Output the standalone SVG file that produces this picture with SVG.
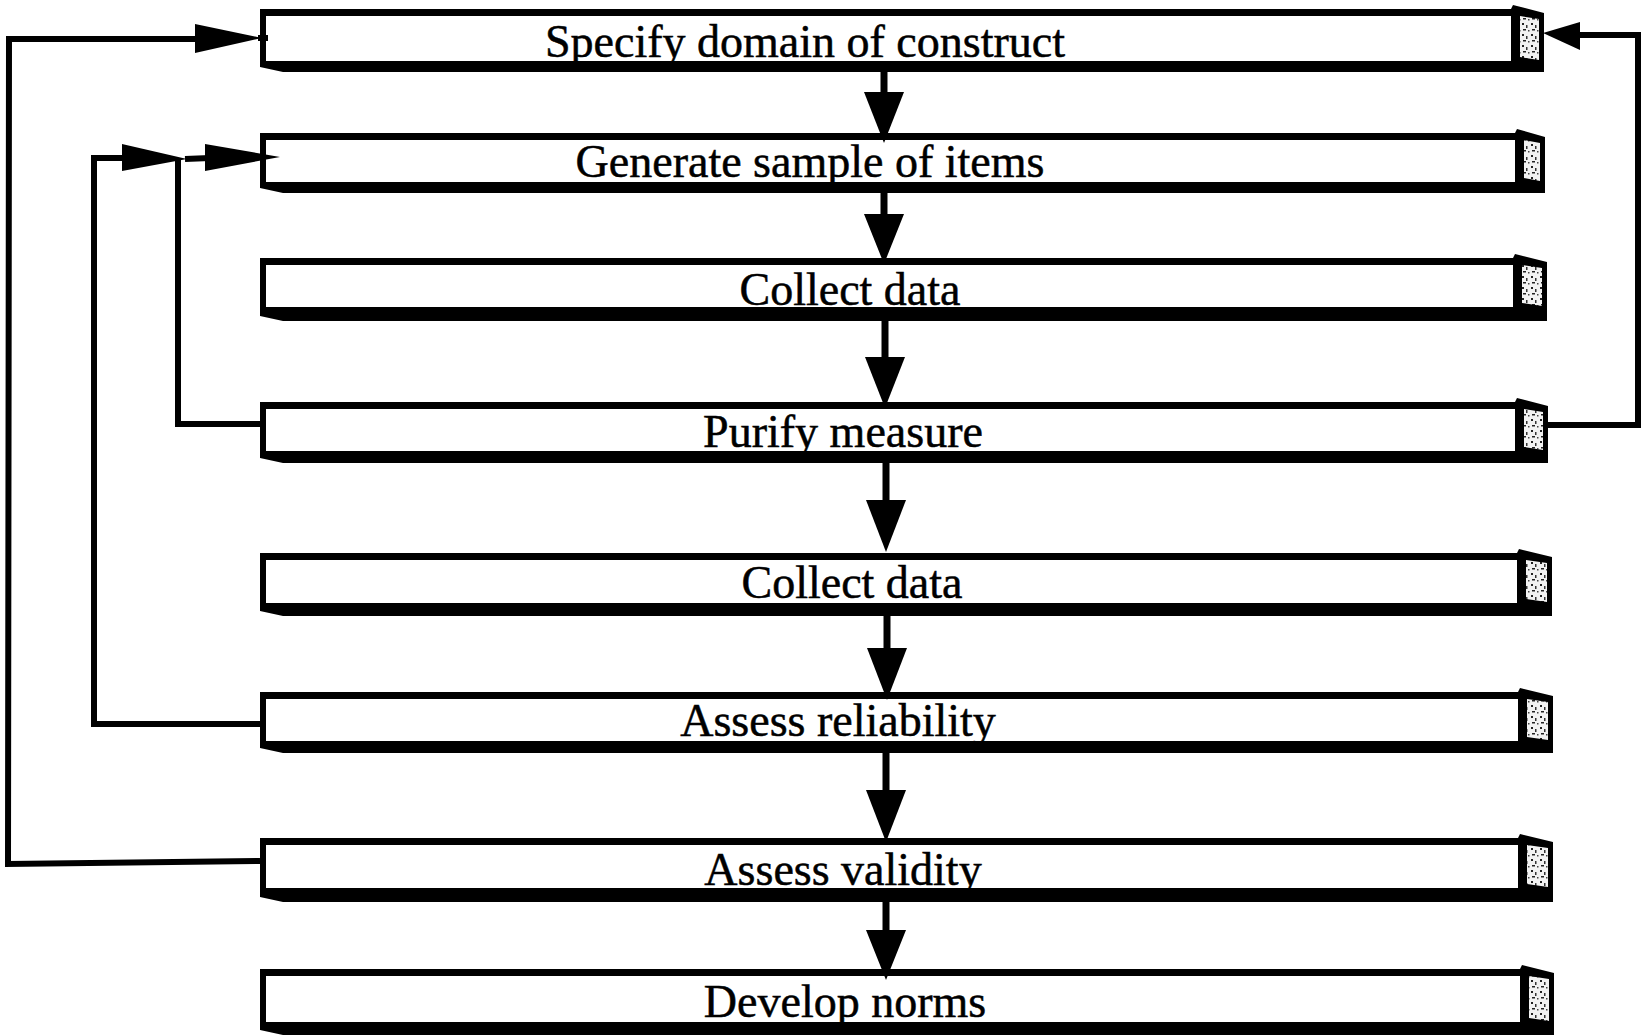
<svg xmlns="http://www.w3.org/2000/svg" width="1641" height="1035" viewBox="0 0 1641 1035">
<style>
.frame{fill:#000}
.inner{fill:#fff}
.cap{fill:url(#spk)}
.lbl{font-family:"Liberation Serif","Times New Roman",serif;font-size:46px;fill:#000;stroke:#000;stroke-width:0.5;text-anchor:middle}
.ln{fill:none;stroke:#000;stroke-width:6;stroke-linejoin:miter}
.sh{fill:none;stroke:#000;stroke-width:7}
.hd{fill:#000}
</style>
<defs>
<pattern id="spk" width="9" height="11" patternUnits="userSpaceOnUse">
<rect width="9" height="11" fill="#f2f2f2"/>
<rect x="1" y="1" width="2" height="2" fill="#222"/>
<rect x="5" y="3" width="1.5" height="3" fill="#333"/>
<rect x="2" y="7" width="3" height="1.5" fill="#222"/>
<rect x="7" y="8" width="1.5" height="1.5" fill="#444"/>
</pattern>
</defs>
<rect width="1641" height="1035" fill="#fff"/>

<g id="node1">
<polygon class="frame" points="260,9 1511,9 1513,5 1544,13 1544,72 283,72 260,67"/>
<rect class="inner" x="266" y="16" width="1245" height="45"/>
<polygon class="cap" points="1520,16 1539,19 1539,60 1520,57"/>
<text class="lbl" x="805" y="57">Specify domain of construct</text>
</g>
<g id="node2">
<polygon class="frame" points="260,133 1515,133 1517,129 1545,137 1545,193 283,193 260,188"/>
<rect class="inner" x="266" y="140" width="1249" height="42"/>
<polygon class="cap" points="1524,140 1540,143 1540,181 1524,178"/>
<text class="lbl" x="810" y="177">Generate sample of items</text>
</g>
<g id="node3">
<polygon class="frame" points="260,258 1513,258 1515,254 1547,262 1547,321 283,321 260,316"/>
<rect class="inner" x="266" y="265" width="1247" height="42"/>
<polygon class="cap" points="1522,265 1542,268 1542,306 1522,303"/>
<text class="lbl" x="850" y="305">Collect data</text>
</g>
<g id="node4">
<polygon class="frame" points="260,402 1515,402 1517,398 1548,406 1548,463 283,463 260,458"/>
<rect class="inner" x="266" y="409" width="1249" height="42"/>
<polygon class="cap" points="1524,409 1543,412 1543,450 1524,447"/>
<text class="lbl" x="843" y="447">Purify measure</text>
</g>
<g id="node5">
<polygon class="frame" points="260,553 1517,553 1519,549 1552,557 1552,616 283,616 260,611"/>
<rect class="inner" x="266" y="560" width="1251" height="43"/>
<polygon class="cap" points="1526,560 1547,563 1547,602 1526,599"/>
<text class="lbl" x="852" y="598">Collect data</text>
</g>
<g id="node6">
<polygon class="frame" points="260,692 1518,692 1520,688 1553,696 1553,753 283,753 260,748"/>
<rect class="inner" x="266" y="699" width="1252" height="42"/>
<polygon class="cap" points="1527,699 1548,702 1548,740 1527,737"/>
<text class="lbl" x="838" y="736">Assess reliability</text>
</g>
<g id="node7">
<polygon class="frame" points="260,838 1518,838 1520,834 1553,842 1553,902 283,902 260,897"/>
<rect class="inner" x="266" y="845" width="1252" height="43"/>
<polygon class="cap" points="1527,845 1548,848 1548,887 1527,884"/>
<text class="lbl" x="843" y="885">Assess validity</text>
</g>
<g id="node8">
<polygon class="frame" points="260,969 1520,969 1522,965 1554,973 1554,1035 283,1035 260,1030"/>
<rect class="inner" x="266" y="976" width="1254" height="46"/>
<polygon class="cap" points="1529,976 1549,979 1549,1021 1529,1018"/>
<text class="lbl" x="845" y="1017">Develop norms</text>
</g>

<g id="connectors">
<line class="sh" x1="884" y1="70" x2="884" y2="94"/>
<polygon class="hd" points="864,92 904,92 884,143"/>
<line class="sh" x1="884" y1="191" x2="884" y2="216"/>
<polygon class="hd" points="864,214 904,214 884,264"/>
<line class="sh" x1="885" y1="319" x2="885" y2="359"/>
<polygon class="hd" points="865,357 905,357 885,408"/>
<line class="sh" x1="886" y1="461" x2="886" y2="502"/>
<polygon class="hd" points="866,500 906,500 886,552"/>
<line class="sh" x1="887" y1="614" x2="887" y2="650"/>
<polygon class="hd" points="867,648 907,648 887,700"/>
<line class="sh" x1="886" y1="751" x2="886" y2="792"/>
<polygon class="hd" points="866,790 906,790 886,842"/>
<line class="sh" x1="886" y1="900" x2="886" y2="932"/>
<polygon class="hd" points="866,930 906,930 886,980"/>
<polyline class="ln" points="260,861 8,864 9,39 200,39"/>
<polygon class="hd" points="195,24 262,38 195,53"/>
<line class="ln" x1="258" y1="38" x2="268" y2="38"/>
<polyline class="ln" points="260,724 94,724 94,158 128,158"/>
<polygon class="hd" points="122,144 187,159 122,171"/>
<line class="ln" x1="185" y1="159" x2="210" y2="158"/>
<polyline class="ln" points="260,424 178,424 178,159"/>
<polygon class="hd" points="205,144 280,157 205,171"/>
<polyline class="ln" points="1548,425 1638,425 1638,35 1575,35"/>
<polygon class="hd" points="1580,22 1543,33 1580,50"/>
</g>
</svg>
